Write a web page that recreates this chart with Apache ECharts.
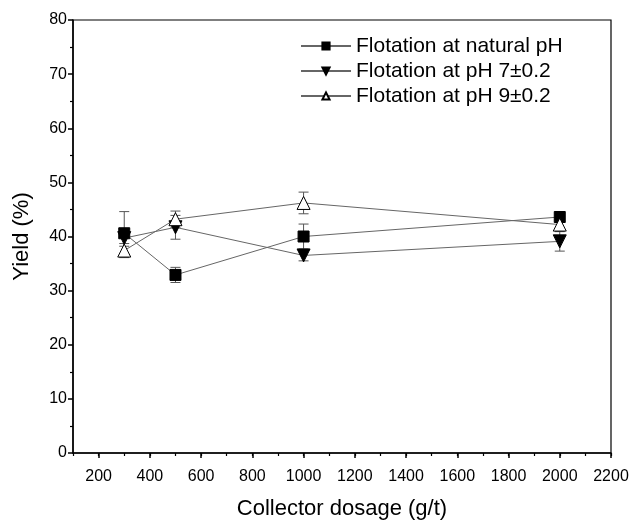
<!DOCTYPE html>
<html><head><meta charset="utf-8">
<script src="https://cdn.jsdelivr.net/npm/echarts@6/dist/echarts.min.js"></script>
<style>html,body{margin:0;padding:0;background:#fff}#c{width:634px;height:520px}</style>
</head><body><div id="c"></div>
<script>
const dosage = [300, 500, 1000, 2000];
const seriesNames = ['Flotation at natural pH', 'Flotation at pH 7\u00b10.2', 'Flotation at pH 9\u00b10.2'];
const yieldNatural = [40.6, 32.9, 40.0, 43.6];
const yieldPH7 = [39.7, 41.7, 36.5, 39.1];
const yieldPH9 = [37.4, 43.2, 46.2, 42.2];
const errNatural = [4.0, 1.4, 2.3, 0.6];
const errPH7 = [1.5, 2.2, 1.0, 1.8];
const errPH9 = [1.3, 1.5, 2.0, 1.0];
const xMajorTicks = [200,400,600,800,1000,1200,1400,1600,1800,2000,2200];

const font = 'Liberation Sans, Arial, sans-serif';
const chart = echarts.init(document.getElementById('c'));

function lineSeries(name, vals, symbol, rotate, fill) {
  return {
    name: name, type: 'line', xAxisIndex: 0,
    data: dosage.map((d, i) => [d, vals[i]]),
    symbol: symbol, symbolRotate: rotate,
    symbolSize: symbol === 'rect' ? 11 : 13,
    lineStyle: { color: '#666', width: 1 },
    itemStyle: { color: fill, borderColor: '#000', borderWidth: 1 },
    z: 3
  };
}
function errSeries(vals, errs) {
  return {
    type: 'custom', xAxisIndex: 0, silent: true, z: 2,
    data: dosage.map((d, i) => [d, vals[i] - errs[i], vals[i] + errs[i]]),
    renderItem: function (params, api) {
      const lo = api.coord([api.value(0), api.value(1)]);
      const hi = api.coord([api.value(0), api.value(2)]);
      const w = 5;
      const st = { stroke: '#555', lineWidth: 1 };
      return { type: 'group', children: [
        { type: 'line', shape: { x1: lo[0], y1: lo[1], x2: hi[0], y2: hi[1] }, style: st },
        { type: 'line', shape: { x1: lo[0]-w, y1: lo[1], x2: lo[0]+w, y2: lo[1] }, style: st },
        { type: 'line', shape: { x1: hi[0]-w, y1: hi[1], x2: hi[0]+w, y2: hi[1] }, style: st }
      ]};
    }
  };
}

chart.setOption({
  animation: false,
  backgroundColor: '#fff',
  grid: { left: 73, right: 23, top: 20, bottom: 67, show: true, borderColor: '#000', borderWidth: 1.2, backgroundColor: 'transparent', outerBoundsMode: 'none', containLabel: false },
  legend: {
    orient: 'vertical', left: 295, top: 29, itemWidth: 50, itemHeight: 9, itemGap: 1,
    data: seriesNames,
    textStyle: { fontFamily: font, fontSize: 21, color: '#000', padding: [0, 0, 0, 0], lineHeight: 24 }
  },
  xAxis: [{
    type: 'value', min: 100, max: 2200,
    name: 'Collector dosage (g/t)', nameLocation: 'middle', nameGap: 45,
    nameTextStyle: { fontFamily: font, fontSize: 22, color: '#000' },
    axisLine: { lineStyle: { color: '#000', width: 1.5 } },
    axisTick: { inside: false, length: 5, lineStyle: { color: '#000', width: 1.5 }, customValues: xMajorTicks },
    axisLabel: { fontFamily: font, fontSize: 16, color: '#000', margin: 16, customValues: xMajorTicks, formatter: v => String(v) },
    splitLine: { show: false }
  }, {
    type: 'value', min: 100, max: 2200, interval: 100, position: 'bottom',
    axisLine: { show: false },
    axisTick: { inside: false, length: 3, lineStyle: { color: '#000', width: 1.2 } },
    axisLabel: { show: false }, splitLine: { show: false }
  }],
  yAxis: {
    type: 'value', min: 0, max: 80, interval: 10,
    name: 'Yield (%)', nameLocation: 'middle', nameGap: 40,
    nameTextStyle: { fontFamily: font, fontSize: 22, color: '#000' },
    axisLine: { show: true, lineStyle: { color: '#000', width: 1.5 } },
    axisTick: { inside: false, length: 5, lineStyle: { color: '#000', width: 1.5 } },
    minorTick: { show: true, splitNumber: 2, length: 3, lineStyle: { color: '#000', width: 1.2 } },
    axisLabel: { fontFamily: font, fontSize: 16, color: '#000', margin: 6 },
    splitLine: { show: false }
  },
  series: [
    errSeries(yieldNatural, errNatural),
    errSeries(yieldPH7, errPH7),
    errSeries(yieldPH9, errPH9),
    lineSeries(seriesNames[0], yieldNatural, 'rect', 0, '#000'),
    lineSeries(seriesNames[1], yieldPH7, 'triangle', 180, '#000'),
    lineSeries(seriesNames[2], yieldPH9, 'triangle', 0, '#fff')
  ]
});
</script></body></html>
